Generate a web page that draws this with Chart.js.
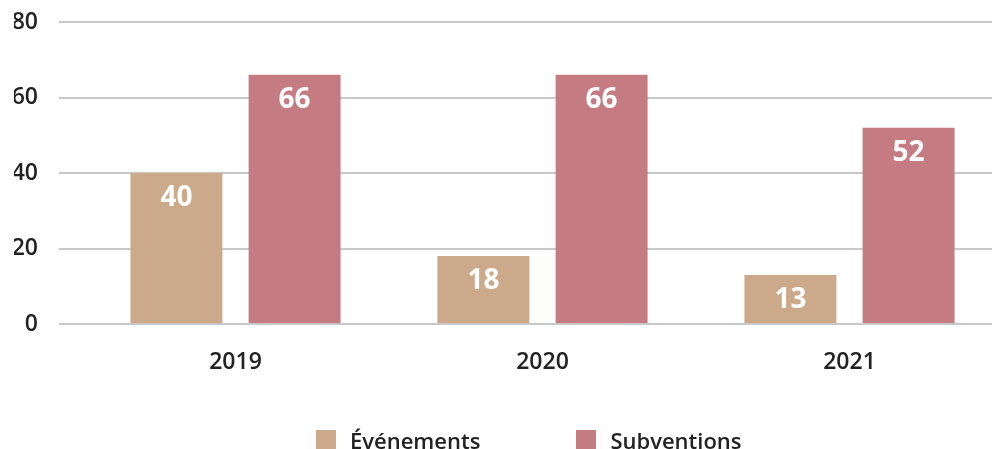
<!DOCTYPE html>
<html>
<head>
<meta charset="utf-8">
<script src="https://cdn.jsdelivr.net/npm/chart.js@4"></script>
<style>
  body { margin: 0; background: #fff; overflow: hidden; }
  #wrap { position: relative; width: 992px; height: 449px; overflow: hidden; }
  #legend { position: absolute; left: 316px; top: 428px; display: flex; gap: 96px; line-height: 24px;
    font-family: "Open Sans", sans-serif; font-weight: 600; font-size: 22px; color: #222; }
  #legend span.item { display: flex; align-items: center; }
  #legend span.box { display: inline-block; width: 20px; height: 20px; margin-right: 14px; }
</style>
</head>
<body>
<div id="wrap">
  <canvas id="myBarChart" width="1003" height="449"></canvas>
  <div id="legend"></div>
</div>
<script>
const years = ['2019', '2020', '2021'];
const evenements = [40, 18, 13];
const subventions = [66, 66, 52];
const yTicks = [0, 20, 40, 60, 80];

const colEvt = '#CBA98A';
const colSub = '#C57B82';

// draws the value inside each bar, near the top
const barValues = {
  id: 'barValues',
  afterDatasetsDraw(chart) {
    const ctx = chart.ctx;
    ctx.save();
    ctx.fillStyle = '#fff';
    ctx.font = 'bold 28px "Open Sans", sans-serif';
    ctx.textAlign = 'center';
    ctx.textBaseline = 'middle';
    chart.data.datasets.forEach((ds, i) => {
      chart.getDatasetMeta(i).data.forEach((bar, j) => {
        ctx.fillText(ds.data[j], bar.x, bar.y + 25);
      });
    });
    ctx.restore();
  }
};

let ctx = document.getElementById('myBarChart').getContext('2d');
let myBarChart = new Chart(ctx, {
  type: 'bar',
  data: {
    labels: years,
    datasets: [
      { label: 'Événements', data: evenements, backgroundColor: colEvt },
      { label: 'Subventions', data: subventions, backgroundColor: colSub }
    ]
  },
  options: {
    responsive: false,
    animation: false,
    layout: { padding: { left: 14, right: 0, top: 22, bottom: 78 } },
    datasets: { bar: { categoryPercentage: 0.77, barPercentage: 0.778 } },
    plugins: { legend: { display: false }, tooltip: { enabled: false } },
    scales: {
      x: {
        grid: { display: false, drawTicks: false },
        border: { display: false },
        afterFit: axis => { axis.height = 47; },
        ticks: { color: '#222', padding: 25, font: { family: 'Open Sans', size: 23, weight: 600 } }
      },
      y: {
        min: 0, max: 80,
        afterBuildTicks: axis => { axis.ticks = yTicks.map(v => ({ value: v })); },
        afterFit: axis => { axis.width = 68; axis.paddingTop = 0; axis.paddingBottom = 0; },
        grid: { color: '#c8c8c8', lineWidth: 2, tickLength: 23, drawTicks: true },
        border: { display: false },
        ticks: { color: '#222', padding: 21, font: { family: 'Open Sans', size: 23, weight: 600 } }
      }
    }
  },
  plugins: [barValues]
});

const legend = document.getElementById('legend');
myBarChart.data.datasets.forEach(ds => {
  const item = document.createElement('span');
  item.className = 'item';
  item.innerHTML = '<span class="box" style="background:' + ds.backgroundColor + '"></span>' + ds.label;
  legend.appendChild(item);
});
</script>
</body>
</html>
